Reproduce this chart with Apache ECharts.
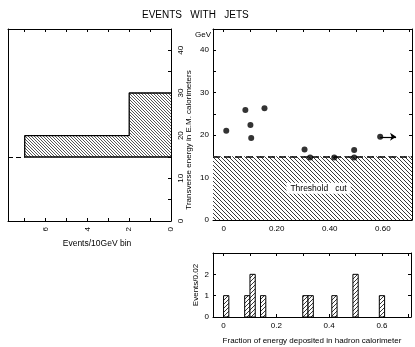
<!DOCTYPE html>
<html><head><meta charset="utf-8">
<script src="https://cdn.jsdelivr.net/npm/echarts@6/dist/echarts.min.js"></script>
<style>html,body{margin:0;padding:0;background:#fff}#c{width:415px;height:347px}</style>
</head><body><div id="c"></div>
<script>
// ---- data ----
const titleText = 'EVENTS   WITH   JETS';
const energyBinLow = [15, 20];
const energyBinHigh = [20, 30];
const energyBinCounts = [7, 2];
const hadronFraction = [0.01, 0.082, 0.101, 0.104, 0.154, 0.305, 0.326, 0.417, 0.492, 0.492, 0.59];
const emEnergy = [21.0, 25.9, 22.4, 19.3, 26.3, 16.6, 14.7, 14.7, 16.5, 14.7, 19.6];
const lowerLimitIndex = 10;
const lowerLimitArrowTo = 0.65;
const thresholdGeV = 15;
const fractionBinStart = [0.00, 0.08, 0.10, 0.14, 0.30, 0.32, 0.41, 0.49, 0.59];
const fractionBinCount = [1, 1, 2, 1, 1, 1, 1, 2, 1];
const fractionBinWidth = 0.02;
const eventsTicks = [0, 1, 2, 3, 4, 5, 6, 7];
const eventsLabels = [0, 2, 4, 6];
const fractionTicks = [0, 0.1, 0.2, 0.3, 0.4, 0.5, 0.6, 0.7];
const fractionLabels = [0, 0.2, 0.4, 0.6];
const energyLabels = [0, 10, 20, 30, 40];
const histLabels = [0, 1, 2];

function hatch(size, dir, width, color) {
  const c = document.createElement('canvas');
  c.width = c.height = size;
  const g = c.getContext('2d');
  g.fillStyle = '#fff'; g.fillRect(0, 0, size, size);
  g.strokeStyle = color; g.lineWidth = width;
  g.beginPath();
  for (let k = -1; k <= 1; k++) {
    if (dir === '\\') { g.moveTo(k * size, 0); g.lineTo(k * size + size, size); }
    else { g.moveTo(k * size + size, 0); g.lineTo(k * size, size); }
  }
  g.stroke();
  return { image: c, repeat: 'repeat' };
}
const hatchLeft = hatch(3, '\\', 0.9, '#444');
const hatchThresh = hatch(4, '\\', 0.9, '#222');
const hatchBottom = hatch(4, '/', 0.9, '#222');

const FONT = 'Liberation Sans';
const line = { show: true, onZero: false, lineStyle: { color: '#000', width: 1 } };
const tickIn = (vals) => ({ show: true, inside: true, length: 3, lineStyle: { color: '#000' }, customValues: vals });
const tickY = { show: true, inside: true, length: 3, lineStyle: { color: '#000' } };
const noLabel = { show: false };

const leftOutline = [[0, energyBinLow[0]]];
energyBinCounts.forEach((n, i) => { leftOutline.push([n, energyBinLow[i]], [n, energyBinHigh[i]]); });
leftOutline.push([0, energyBinHigh[energyBinHigh.length - 1]]);

const chart = echarts.init(document.getElementById('c'), null, { renderer: 'canvas' });
chart.setOption({
  animation: false,
  textStyle: { fontFamily: FONT, color: '#000' },
  title: { text: titleText, left: 137, top: 5, textStyle: { fontSize: 10, fontWeight: 'normal', fontFamily: FONT, color: '#000' } },
  grid: [
    { left: 8, right: 244, top: 29, bottom: 126 },
    { left: 213, right: 3, top: 29, bottom: 127 },
    { left: 213, right: 4, top: 253, bottom: 30 }
  ],
  xAxis: [
    { gridIndex: 0, type: 'value', inverse: true, min: 0, max: 7.8, position: 'bottom', axisLine: line,
      axisTick: tickIn(eventsTicks), splitLine: { show: false },
      axisLabel: { customValues: eventsLabels, rotate: 90, fontSize: 8, margin: 6, color: '#000' } },
    { gridIndex: 0, type: 'value', inverse: true, min: 0, max: 7.8, position: 'top', axisLine: line,
      axisTick: tickIn(eventsTicks), splitLine: { show: false }, axisLabel: noLabel },
    { gridIndex: 1, type: 'value', min: -0.04, max: 0.71, position: 'bottom', axisLine: line,
      axisTick: tickIn(fractionTicks), splitLine: { show: false },
      axisLabel: { customValues: fractionLabels, fontSize: 8, margin: 5, color: '#000',
        formatter: v => v === 0 ? '0' : v.toFixed(2) } },
    { gridIndex: 1, type: 'value', min: -0.04, max: 0.71, position: 'top', axisLine: line,
      axisTick: tickIn(fractionTicks), splitLine: { show: false }, axisLabel: noLabel },
    { gridIndex: 2, type: 'value', min: -0.04, max: 0.71, position: 'bottom', axisLine: line,
      axisTick: tickIn(fractionTicks), splitLine: { show: false },
      axisLabel: { customValues: fractionLabels, fontSize: 8, margin: 5, color: '#000',
        formatter: v => v === 0 ? '0' : v.toFixed(1) },
      name: 'Fraction of energy deposited in hadron calorimeter', nameLocation: 'middle', nameGap: 20,
      nameTextStyle: { fontSize: 8, color: '#000' } },
    { gridIndex: 2, type: 'value', min: -0.04, max: 0.71, position: 'top', axisLine: line,
      axisTick: tickIn(fractionTicks), splitLine: { show: false }, axisLabel: noLabel }
  ],
  yAxis: [
    { gridIndex: 0, type: 'value', min: 0, max: 45, interval: 5, position: 'right', axisLine: line,
      axisTick: tickY, splitLine: { show: false },
      axisLabel: { customValues: energyLabels, rotate: 90, fontSize: 8, margin: 6, color: '#000' } },
    { gridIndex: 0, type: 'value', min: 0, max: 45, position: 'left', axisLine: line,
      axisTick: { show: false }, splitLine: { show: false }, axisLabel: noLabel },
    { gridIndex: 1, type: 'value', min: 0, max: 45, interval: 5, position: 'left', axisLine: line,
      axisTick: tickY, splitLine: { show: false },
      axisLabel: { customValues: energyLabels, fontSize: 8, margin: 4, color: '#000' } },
    { gridIndex: 1, type: 'value', min: 0, max: 45, interval: 5, position: 'right', axisLine: line,
      axisTick: tickY, splitLine: { show: false }, axisLabel: noLabel },
    { gridIndex: 2, type: 'value', min: 0, max: 3, interval: 1, position: 'left', axisLine: line,
      axisTick: tickY, splitLine: { show: false },
      axisLabel: { customValues: histLabels, fontSize: 8, margin: 4, color: '#000' },
      name: 'Events/0.02', nameLocation: 'middle', nameGap: 13, nameRotate: 90, nameTextStyle: { fontSize: 8, color: '#000' } },
    { gridIndex: 2, type: 'value', min: 0, max: 3, interval: 1, position: 'right', axisLine: line,
      axisTick: tickY, splitLine: { show: false }, axisLabel: noLabel }
  ],
  graphic: [
    { type: 'text', left: 195, top: 31, style: { text: 'GeV', fontSize: 8, fontFamily: FONT, fill: '#000' } },
    { type: 'text', x: 189, y: 140, rotation: Math.PI / 2,
      style: { text: 'Transverse energy in E.M. calorimeters', fontSize: 8, fontFamily: FONT, fill: '#000', align: 'center', verticalAlign: 'middle' } },
    { type: 'text', x: 97, y: 244,
      style: { text: 'Events/10GeV bin', fontSize: 8.5, fontFamily: FONT, fill: '#000', align: 'center', verticalAlign: 'middle' } }
  ],
  series: [
    { type: 'custom', xAxisIndex: 0, yAxisIndex: 0, z: 3,
      data: energyBinLow.map((lo, i) => [lo, energyBinHigh[i], energyBinCounts[i]]),
      encode: { x: 2, y: [0, 1] },
      renderItem: (params, api) => {
        const a = api.coord([0, api.value(0)]);
        const b = api.coord([api.value(2), api.value(1)]);
        return { type: 'rect', shape: { x: Math.min(a[0], b[0]), y: Math.min(a[1], b[1]), width: Math.abs(a[0] - b[0]), height: Math.abs(a[1] - b[1]) },
          style: { fill: hatchLeft } };
      } },
    { type: 'line', xAxisIndex: 0, yAxisIndex: 0, z: 4, data: leftOutline, symbol: 'none',
      lineStyle: { color: '#000', width: 1.3 },
      markLine: { silent: true, symbol: 'none', label: { show: false },
        lineStyle: { type: [5, 3], color: '#000', width: 1 },
        data: [[{ coord: [7.8, thresholdGeV] }, { coord: [energyBinCounts[0], thresholdGeV] }]] } },
    { type: 'scatter', xAxisIndex: 2, yAxisIndex: 2, z: 5,
      data: hadronFraction.map((x, i) => [x, emEnergy[i]]),
      symbol: 'circle', symbolSize: 6, itemStyle: { color: '#000' },
      markArea: { silent: true, itemStyle: { color: hatchThresh },
        label: { show: true, position: 'inside', formatter: 'Threshold   cut', backgroundColor: '#fff', padding: [1, 4],
          fontSize: 8.5, color: '#000', fontFamily: FONT, offset: [6, 0] },
        data: [[{ coord: [-0.04, 0] }, { coord: [0.71, thresholdGeV] }]] },
      markLine: { silent: true, symbol: 'none', symbolSize: 6, label: { show: false },
        data: [
          [{ coord: [-0.04, thresholdGeV], lineStyle: { type: [7, 4], color: '#000', width: 1.6 } },
           { coord: [0.71, thresholdGeV] }],
          [{ coord: [hadronFraction[lowerLimitIndex], emEnergy[lowerLimitIndex]], symbol: 'none', lineStyle: { type: 'solid', color: '#000', width: 1.2 } },
           { coord: [lowerLimitArrowTo, emEnergy[lowerLimitIndex]], symbol: 'arrow' }]
        ] } },
    { type: 'custom', xAxisIndex: 4, yAxisIndex: 4, z: 3,
      data: fractionBinStart.map((s, i) => [s, fractionBinCount[i]]),
      encode: { x: 0, y: 1 },
      renderItem: (params, api) => {
        const a = api.coord([api.value(0), 0]);
        const b = api.coord([api.value(0) + fractionBinWidth, api.value(1)]);
        return { type: 'rect', shape: { x: a[0], y: b[1], width: b[0] - a[0], height: a[1] - b[1] },
          style: { fill: hatchBottom, stroke: '#000', lineWidth: 1 } };
      } }
  ]
});
</script></body></html>
